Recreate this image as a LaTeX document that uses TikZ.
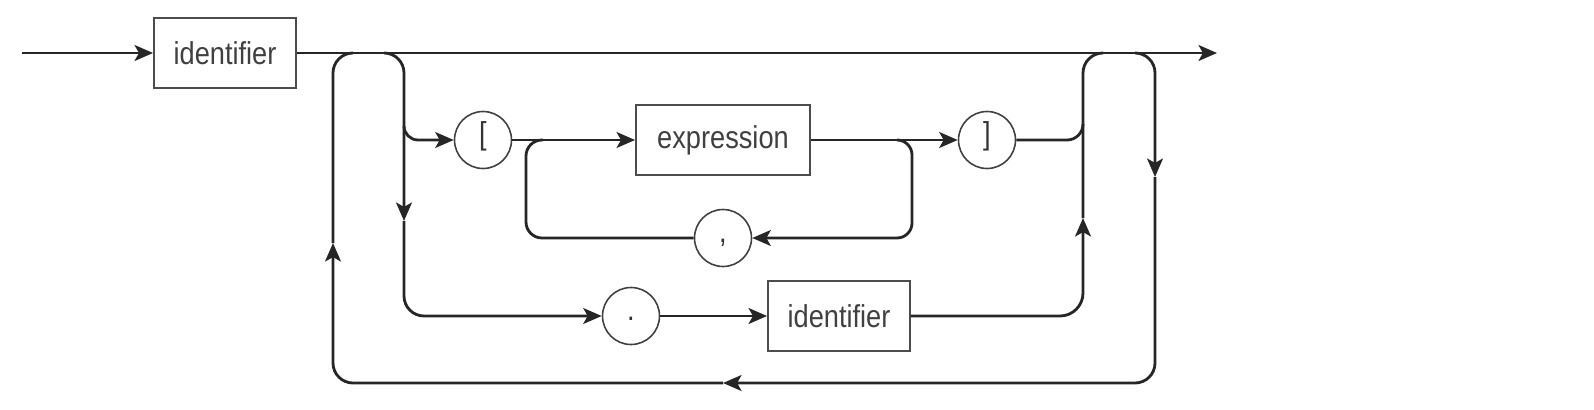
\documentclass[tikz,border=0pt]{standalone}
\usepackage{fontspec}
\setmainfont{Liberation Sans}[FakeStretch=0.86]
\usetikzlibrary{arrows.meta}

\tikzset{
  wire/.style={line width=1.6pt, draw=black!85},
  term/.style={draw=black!70, line width=1.1pt, minimum width=2.84cm, minimum height=1.41cm,
    inner sep=0pt, text=black!75, font=\fontsize{18}{20}\selectfont},
  sym/.style={draw=black!75, line width=0.9pt, circle, minimum size=1.14cm, inner sep=0pt,
    text=black!80, text height=0.72em, text depth=0.21em, font=\fontsize{18}{20}\selectfont}
}

\begin{document}
\begin{tikzpicture}[x=0.02cm, y=-0.02cm, >={Stealth[length=10.5pt,width=9pt,inset=2.5pt]}]
  \useasboundingbox (0,0) rectangle (1594,409);

  \node[term] (id1) at (225,53) {identifier};
  \node[sym] (lb) at (483,140) {[};
  \node[term, minimum width=3.48cm] (expr) at (723,140) {expression};
  \node[sym] (rb) at (987,140) {]};
  \node[sym] (comma) at (723,238) {,};
  \node[sym] (dot) at (631,316) {.};
  \node[term] (id2) at (839,316) {identifier};

  % main line
  \coordinate (in) at (22,53);
  \coordinate (out) at (1217,53);
  \draw[wire,->] (in) -- (id1);
  \draw[wire,->] (id1) -- (out);

  % return loop
  \coordinate (r0) at (1135,53);
  \coordinate (r1) at (1155,177);
  \coordinate (r2) at (723,383);
  \coordinate (r3) at (333,243);
  \coordinate (r4) at (353,53);
  \draw[wire,->,rounded corners=0.4cm] (r0) -| (r1);
  \draw[wire,->,rounded corners=0.4cm] (r1) |- (r2);
  \draw[wire,->,rounded corners=0.4cm] (r2) -| (r3);
  \draw[wire,rounded corners=0.4cm] (r3) |- (r4);

  % branch down
  \coordinate (b0) at (384,53);
  \coordinate (b1) at (404,221);
  \coordinate (b2) at (404,126);
  \draw[wire,->,rounded corners=0.4cm] (b0) -| (b1);
  \draw[wire,->,rounded corners=0.4cm] (b1) |- (dot.west);
  \draw[wire,->,rounded corners=0.28cm] (b2) |- (lb.west);

  % index list
  \draw[wire,->] (lb) -- (expr);
  \draw[wire,->] (expr) -- (rb);
  \coordinate (c0) at (897,140);
  \coordinate (c1) at (912,238);
  \coordinate (c2) at (526,140);
  \coordinate (c3) at (543,140);
  \draw[wire,->,rounded corners=0.3cm] (c0) -| (c1) -- (comma.east);
  \draw[wire,rounded corners=0.32cm] (comma.west) -| (c2) -- (c3);

  % field select
  \draw[wire,->] (dot) -- (id2);

  % join right
  \coordinate (j0) at (1083,218);
  \coordinate (j1) at (1103,53);
  \coordinate (j2) at (1083,124);
  \draw[wire,->,rounded corners=0.46cm] (id2.east) -| (j0);
  \draw[wire,rounded corners=0.4cm] (j0) |- (j1);
  \draw[wire,rounded corners=0.32cm] (rb.east) -| (j2);
\end{tikzpicture}
\end{document}
